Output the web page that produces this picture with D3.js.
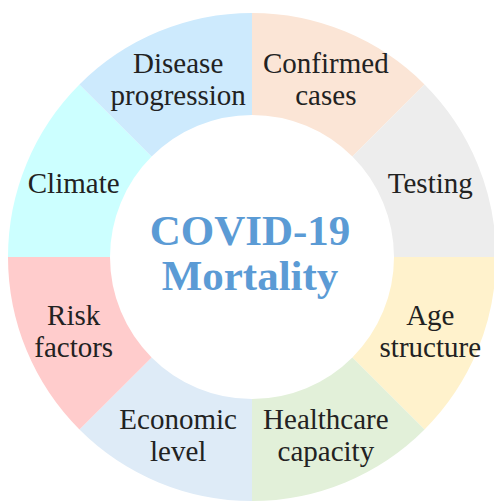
<!DOCTYPE html>
<meta charset="utf-8">
<style>
  body { margin: 0; background: #fff; }
</style>
<svg class="chart"></svg>
<script src="https://d3js.org/d3.v7.min.js"></script>
<script>
  // factors, clockwise from 12 o'clock
  var factors = [
    "Confirmed cases",
    "Testing",
    "Age structure",
    "Healthcare capacity",
    "Economic level",
    "Risk factors",
    "Climate",
    "Disease progression"
  ];
  var factorLines = [
    ["Confirmed", "cases"],
    ["Testing"],
    ["Age", "structure"],
    ["Healthcare", "capacity"],
    ["Economic", "level"],
    ["Risk", "factors"],
    ["Climate"],
    ["Disease", "progression"]
  ];
  var weights = [1, 1, 1, 1, 1, 1, 1, 1];
  var colors = ["#fbe5d6", "#ededed", "#fff2cc", "#e2f0d9", "#deebf7", "#ffcccc", "#ccffff", "#cdeafd"];
  var titleLines = ["COVID-19", "Mortality"];

  var serif = "'Liberation Serif'";

  var width = 494, height = 501;
  var cx = 252, cy = 257;
  var outerR = 244, innerR = 142;

  var svg = d3.select(".chart")
      .attr("width", width)
      .attr("height", height);

  var g = svg.append("g")
      .attr("transform", "translate(" + cx + "," + cy + ")");

  var pie = d3.pie().sort(null).value(function(d) { return d; });
  var arcs = pie(weights);

  var arc = d3.arc().innerRadius(innerR).outerRadius(outerR);
  var labelArc = d3.arc().innerRadius(innerR + 51).outerRadius(innerR + 51);

  g.append("g").selectAll("path")
      .data(arcs)
    .enter().append("path")
      .attr("d", arc)
      .attr("fill", function(d, i) { return colors[i]; });

  // one text element per line
  var lineH = 32;
  var labelRows = [];
  arcs.forEach(function(d, i) {
    var c = labelArc.centroid(d);
    var lines = factorLines[i];
    lines.forEach(function(line, j) {
      labelRows.push({ x: c[0], y: c[1] + (j - (lines.length - 1) / 2) * lineH + 10, text: line });
    });
  });

  g.append("g")
    .selectAll("text")
      .data(labelRows)
    .enter().append("text")
      .attr("text-anchor", "middle")
      .attr("x", function(d) { return d.x; })
      .attr("y", function(d) { return d.y; })
      .style("font-family", serif)
      .style("font-size", "29px")
      .style("fill", "#222")
      .text(function(d) { return d.text; });

  g.append("g")
    .selectAll("text")
      .data(titleLines)
    .enter().append("text")
      .attr("text-anchor", "middle")
      .attr("x", -2)
      .attr("y", function(d, i) { return -12 + i * 45; })
      .style("font-family", serif)
      .style("font-weight", "bold")
      .style("font-size", "43px")
      .style("fill", "#5b9bd5")
      .text(function(d) { return d; });
</script>
